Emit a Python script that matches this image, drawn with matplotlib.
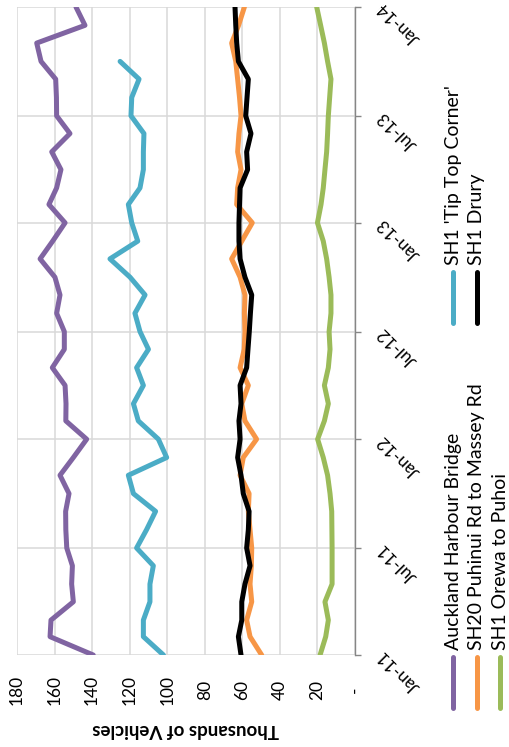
import numpy as np
import pandas as pd
import matplotlib
matplotlib.use("Agg")
from matplotlib import pyplot as plt
from matplotlib.lines import Line2D

plt.rcParams['font.family'] = ['Lato', 'DejaVu Sans']

# monthly traffic volumes, thousands of vehicles per day
months = pd.date_range('2011-01-01', '2014-01-01', freq='MS')

harbour_bridge = [139.4, 162.4, 161.9, 150.0, 150.9, 150.5, 153.5, 154.0, 154.1, 152.3,
                  157.1, 150.0, 142.9, 154.0, 153.9, 154.4, 161.2, 154.8, 154.8, 158.9,
                  157.1, 159.8, 167.7, 161.0, 154.4, 163.0, 158.9, 156.6, 161.5, 151.8,
                  158.9, 159.0, 159.4, 167.2, 169.5, 143.8, 148.6]
tip_top_corner = [102.0, 112.7, 112.7, 109.2, 109.2, 107.4, 116.3, 111.0, 106.2, 118.0,
                  120.7, 100.3, 104.7, 115.4, 118.0, 112.7, 116.3, 110.0, 114.5, 117.2,
                  111.8, 119.8, 130.5, 115.7, 118.9, 120.7, 114.5, 112.7, 112.7, 112.4,
                  119.3, 118.9, 115.0, 125.1, np.nan, np.nan, np.nan]
puhinui_massey = [49.7, 55.9, 57.7, 55.0, 55.9, 55.2, 55.0, 55.9, 56.8, 56.4,
                  61.2, 59.5, 52.4, 58.6, 60.3, 56.8, 61.2, 59.0, 58.6, 58.9,
                  58.6, 61.2, 65.7, 60.3, 54.7, 63.0, 62.5, 60.7, 62.5, 61.8,
                  60.7, 61.5, 62.5, 63.5, 65.7, 62.0, 58.9]
drury = [60.7, 62.1, 60.3, 60.3, 58.6, 55.9, 57.7, 56.8, 56.4, 59.5,
         60.7, 62.5, 61.2, 61.8, 60.7, 61.2, 57.7, 57.0, 56.3, 55.7,
         55.0, 58.6, 61.2, 61.8, 61.8, 61.5, 61.2, 57.2, 57.7, 55.4,
         58.2, 57.5, 56.8, 62.1, 63.0, 63.5, 63.9]
orewa_puhoi = [18.6, 15.6, 14.2, 16.0, 12.2, 12.2, 12.2, 12.3, 12.4, 13.3,
               14.6, 16.9, 19.9, 16.3, 14.2, 16.3, 14.2, 13.3, 13.8, 12.8,
               12.8, 13.8, 15.1, 16.9, 20.0, 18.1, 16.9, 16.0, 15.1, 14.6,
               14.2, 13.5, 12.8, 14.6, 16.3, 18.3, 20.4]

series_names = ['Auckland Harbour Bridge', "SH1 'Tip Top Corner'",
                'SH20 Puhinui Rd to Massey Rd', 'SH1 Drury', 'SH1 Orewa to Puhoi']
series_values = [harbour_bridge, tip_top_corner, puhinui_massey, drury, orewa_puhoi]
colours = ['#8064A2', '#4BACC6', '#F79646', '#000000', '#9BBB59']

value_ticks = np.arange(0, 181, 20)
value_labels = ['-'] + [str(v) for v in value_ticks[1:]]
date_ticks = pd.date_range('2011-01-01', '2014-01-01', freq='6MS')
date_labels = [d.strftime('%b-%y') for d in date_ticks]

W, H = 509, 747


def fx(x):
    return x / W


def fy(y):
    return 1 - y / H


fig = plt.figure(figsize=(W / 100, H / 100), dpi=100)
ax = fig.add_axes([fx(17), fy(655), 338 / W, 648 / H])

for vals, col in zip(series_values, colours):
    ax.plot(vals, months, color=col, lw=3.6, solid_joinstyle='round',
            solid_capstyle='round', zorder=3)

ax.set_xlim(180, 0)
ax.set_ylim(months[0], months[-1])
ax.set_xticks(value_ticks)
ax.set_yticks(date_ticks)
ax.grid(color='#D9D9D9', lw=1.1)
ax.set_axisbelow(True)
for s in ['top', 'left', 'bottom']:
    ax.spines[s].set_visible(False)
ax.spines['right'].set_color('#868686')
ax.spines['right'].set_linewidth(1.0)
ax.yaxis.tick_right()
ax.tick_params(axis='x', length=0, labelbottom=False)
ax.tick_params(axis='y', direction='out', length=4.5, color='#868686', width=1.0,
               labelright=False)

# value labels under the plot, turned on their side
for v, lab in zip(value_ticks, value_labels):
    ax.text(v, -0.054, lab, transform=ax.get_xaxis_transform(), rotation=90,
            ha='center', va='center', fontsize=12.5, color='#000000')

# date labels on the right
for d, lab in zip(date_ticks, date_labels):
    ax.annotate(lab, xy=(0, d), xycoords='data', xytext=(18, 1.5),
                textcoords='offset points', rotation=135, rotation_mode='anchor',
                ha='right', va='center', fontsize=12.5, color='#000000',
                annotation_clip=False)

ax.text(0.5, -0.115, 'Thousands of Vehicles', transform=ax.transAxes, rotation=180,
        ha='center', va='center', fontsize=13.5, fontweight='bold')

# legend: two columns of entries reading upwards
legend_spots = [(453, 650), (453, 265), (476.5, 650), (476.5, 265), (500, 650)]
for (x, y), name, col in zip(legend_spots, series_names, colours):
    fig.add_artist(Line2D([fx(x), fx(x)], [fy(y + 7), fy(y + 58)],
                          transform=fig.transFigure, color=col, lw=3.6,
                          solid_capstyle='round'))
    fig.text(fx(x), fy(y), name, rotation=90, ha='center', va='bottom',
             fontsize=14)

fig.savefig('out.png', dpi=100)
